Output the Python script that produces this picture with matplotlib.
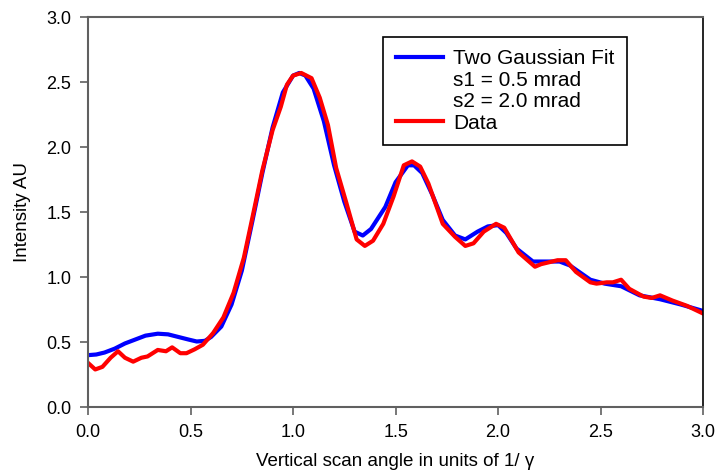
import matplotlib
matplotlib.use('Agg')
import matplotlib.pyplot as plt
from matplotlib.lines import Line2D

plt.rcParams['font.family'] = ['Liberation Sans', 'DejaVu Sans']
plt.rcParams['font.size'] = 13

# measured data (red)
data_x = [0.0, 0.035, 0.07, 0.11, 0.146, 0.18, 0.22, 0.26, 0.29, 0.34, 0.38, 0.41,
          0.45, 0.48, 0.52, 0.56, 0.61, 0.66, 0.71, 0.76, 0.81, 0.85, 0.90, 0.94,
          0.97, 1.00, 1.04, 1.09, 1.13, 1.17, 1.21, 1.26, 1.31, 1.35, 1.39, 1.44,
          1.49, 1.54, 1.58, 1.62, 1.66, 1.73, 1.79, 1.84, 1.88, 1.93, 1.99, 2.03,
          2.10, 2.18, 2.21, 2.29, 2.33, 2.38, 2.45, 2.48, 2.53, 2.56, 2.60, 2.64,
          2.71, 2.75, 2.79, 2.85, 2.92, 3.0]
data_y = [0.34, 0.29, 0.31, 0.38, 0.43, 0.38, 0.35, 0.38, 0.39, 0.44, 0.43, 0.46,
          0.415, 0.415, 0.445, 0.48, 0.57, 0.69, 0.88, 1.15, 1.52, 1.82, 2.13, 2.31,
          2.48, 2.55, 2.57, 2.53, 2.38, 2.17, 1.84, 1.57, 1.29, 1.24, 1.28, 1.41,
          1.62, 1.86, 1.89, 1.85, 1.72, 1.41, 1.31, 1.24, 1.26, 1.35, 1.41, 1.38,
          1.19, 1.08, 1.10, 1.13, 1.13, 1.04, 0.96, 0.95, 0.96, 0.96, 0.98, 0.91,
          0.85, 0.84, 0.86, 0.82, 0.78, 0.72]

# two gaussian fit (blue)
fit_x = [0.0, 0.04, 0.08, 0.13, 0.18, 0.23, 0.28, 0.34, 0.39, 0.44, 0.49, 0.53,
         0.57, 0.60, 0.65, 0.70, 0.75, 0.80, 0.85, 0.90, 0.95, 1.00, 1.03, 1.06,
         1.10, 1.15, 1.20, 1.25, 1.30, 1.34, 1.38, 1.45, 1.50, 1.56, 1.59, 1.63,
         1.68, 1.73, 1.79, 1.84, 1.90, 1.95, 2.00, 2.04, 2.09, 2.17, 2.22, 2.30,
         2.35, 2.45, 2.52, 2.60, 2.69, 2.79, 2.89, 3.0]
fit_y = [0.40, 0.405, 0.42, 0.45, 0.49, 0.52, 0.55, 0.565, 0.56, 0.54, 0.52, 0.505,
         0.51, 0.54, 0.62, 0.79, 1.05, 1.42, 1.80, 2.15, 2.42, 2.55, 2.57, 2.55,
         2.45, 2.20, 1.86, 1.58, 1.35, 1.32, 1.37, 1.54, 1.73, 1.86, 1.86, 1.80,
         1.63, 1.44, 1.32, 1.29, 1.35, 1.39, 1.40, 1.34, 1.22, 1.12, 1.12, 1.12,
         1.09, 0.98, 0.95, 0.93, 0.86, 0.83, 0.79, 0.74]

ticks = [0.0, 0.5, 1.0, 1.5, 2.0, 2.5, 3.0]

fig = plt.figure(figsize=(7.16, 4.74), dpi=100)
ax = fig.add_axes([0.123, 0.141, 0.859, 0.823])

ax.plot(fit_x, fit_y, color='#0000ff', linewidth=3, solid_joinstyle='round')
ax.plot(data_x, data_y, color='#ff0000', linewidth=3, solid_joinstyle='round')

ax.set_xlim(0, 3)
ax.set_ylim(0, 3)
ax.set_xticks(ticks)
ax.set_yticks(ticks)
ax.set_xticklabels(['%.1f' % t for t in ticks])
ax.set_yticklabels(['%.1f' % t for t in ticks])
ax.tick_params(direction='out', length=6, width=1.2, color='#606060', pad=6,
               labelsize=13, top=False, right=False)

for side in ['left', 'bottom', 'top']:
    ax.spines[side].set_color('#606060')
    ax.spines[side].set_linewidth(1.5)
ax.spines['right'].set_color('black')
ax.spines['right'].set_linewidth(1.2)

ax.set_xlabel('Vertical scan angle in units of 1/ γ', fontsize=13.5, labelpad=9)
ax.set_ylabel('Intensity AU', fontsize=13.5, labelpad=11)

handles = [Line2D([], [], color='#0000ff', linewidth=3),
           Line2D([], [], color='none'),
           Line2D([], [], color='none'),
           Line2D([], [], color='#ff0000', linewidth=3)]
labels = ['Two Gaussian Fit', 's1 = 0.5 mrad', 's2 = 2.0 mrad', 'Data']
leg = ax.legend(handles, labels, loc='upper left', bbox_to_anchor=(0.48, 0.95),
                fontsize=15, fancybox=False, edgecolor='black', framealpha=1,
                handlelength=2.25, handletextpad=0.5, labelspacing=0.12,
                borderpad=0.6, borderaxespad=0)
leg.get_frame().set_linewidth(1.2)

fig.savefig('out.png', dpi=100)
